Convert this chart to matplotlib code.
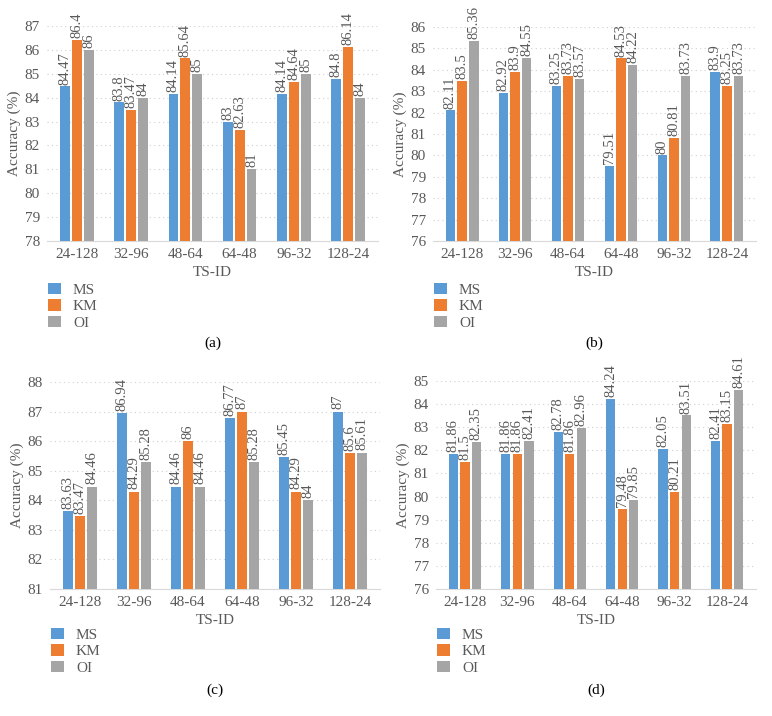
import numpy as np
import matplotlib
matplotlib.use('Agg')
import matplotlib.pyplot as plt

plt.rcParams['font.family'] = ['Liberation Serif', 'DejaVu Serif']

ts_ids = ['24-128', '32-96', '48-64', '64-48', '96-32', '128-24']
series = ['MS', 'KM', 'OI']

a_ms = [84.47, 83.8, 84.14, 83, 84.14, 84.8]
a_km = [86.4, 83.47, 85.64, 82.63, 84.64, 86.14]
a_oi = [86, 84, 85, 81, 85, 84]

b_ms = [82.11, 82.92, 83.25, 79.51, 80, 83.9]
b_km = [83.5, 83.9, 83.73, 84.53, 80.81, 83.25]
b_oi = [85.36, 84.55, 83.57, 84.22, 83.73, 83.73]

c_ms = [83.63, 86.94, 84.46, 86.77, 85.45, 87]
c_km = [83.47, 84.29, 86, 87, 84.29, 85.6]
c_oi = [84.46, 85.28, 84.46, 85.28, 84, 85.61]

d_ms = [81.86, 81.86, 82.78, 84.24, 82.05, 82.41]
d_km = [81.5, 81.86, 81.86, 79.48, 80.21, 83.15]
d_oi = [82.35, 82.41, 82.96, 79.85, 83.51, 84.61]

colors = ['#5B9BD5', '#ED7D31', '#A5A5A5']
txt = '#595959'

W, H = 772, 716
fig = plt.figure(figsize=(W / 100, H / 100), dpi=100)

# pixel boxes: left, right, top, bottom  + ylim + caption
panels = [
    ((47, 378, 26, 241), (78, 87), [a_ms, a_km, a_oi], '(a)', (44, 269), 343),
    ((433, 756, 27, 241), (76, 86), [b_ms, b_km, b_oi], '(b)', (430, 269), 343),
    ((50, 380, 382, 589), (81, 88), [c_ms, c_km, c_oi], '(c)', (47, 614), 690),
    ((436, 756, 381, 589), (76, 85), [d_ms, d_km, d_oi], '(d)', (433, 614), 690),
]

x = np.arange(len(ts_ids))
w = 0.18
step = 0.22

for (l, r, t, b), ylim, data, cap, legpos, capy in panels:
    ax = fig.add_axes([l / W, 1 - b / H, (r - l) / W, (b - t) / H])
    for i, vals in enumerate(data):
        pos = x + (i - 1) * step
        ax.bar(pos, vals, width=w, color=colors[i], label=series[i], zorder=3)
        for xi, v in zip(pos, vals):
            ax.text(xi, v + 0.08, f'{v:g}', rotation=90, ha='center', va='bottom',
                    fontsize=10.5, color=txt)
    ax.set_ylim(*ylim)
    ax.set_xlim(-0.55, len(ts_ids) - 0.45)
    ax.set_yticks(np.arange(ylim[0], ylim[1] + 1))
    ax.set_xticks(x)
    ax.set_xticklabels(ts_ids)
    ax.tick_params(length=0, labelsize=11, colors=txt, pad=5)
    ax.yaxis.grid(True, linestyle=(0, (1, 3)), color='#D0D0D0', linewidth=0.8, zorder=0)
    for s in ['top', 'right', 'left']:
        ax.spines[s].set_visible(False)
    ax.spines['bottom'].set_color('#D9D9D9')
    ax.set_ylabel('Accuracy (%)', fontsize=11, color=txt, labelpad=3)
    ax.set_xlabel('TS-ID', fontsize=11, color=txt, labelpad=4)
    ax.legend(loc='upper left', bbox_to_anchor=(legpos[0] / W - 0.012, 1 - legpos[1] / H),
              bbox_transform=fig.transFigure, frameon=False, fontsize=11,
              handlelength=0.8, handleheight=0.8, labelspacing=0.15, handletextpad=0.8,
              labelcolor=txt)
    fig.text((l + r) / 2 / W, 1 - capy / H, cap, ha='center', va='center', fontsize=11)

fig.savefig('out.png', dpi=100)
